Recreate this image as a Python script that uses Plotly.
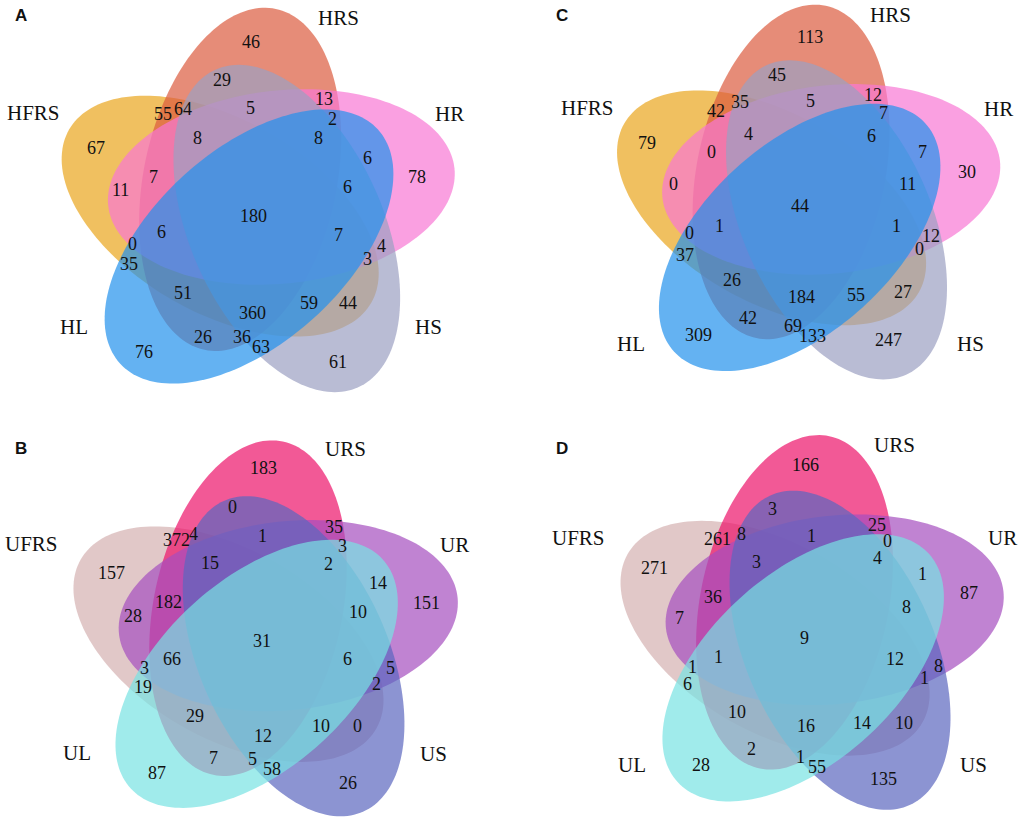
import numpy as np
import plotly.graph_objects as go

# ---------------- data ----------------
sets_H = ["HL", "HS", "HR", "HRS", "HFRS"]
sets_U = ["UL", "US", "UR", "URS", "UFRS"]

counts_A = [46, 29, 13, 55, 64, 5, 2, 67, 8, 8, 6, 78, 7, 11, 6, 180, 6, 7, 0, 4, 35, 3, 51, 59, 44, 360, 26, 36, 63, 76, 61]
counts_C = [113, 45, 12, 35, 42, 5, 7, 79, 4, 6, 0, 7, 30, 0, 11, 44, 1, 1, 0, 12, 0, 37, 26, 55, 27, 184, 42, 69, 133, 309, 247]
counts_B = [183, 0, 35, 372, 4, 1, 3, 15, 2, 157, 14, 182, 151, 28, 10, 31, 66, 6, 3, 5, 19, 2, 29, 10, 0, 12, 7, 5, 58, 87, 26]
counts_D = [166, 3, 25, 261, 8, 1, 0, 3, 4, 271, 1, 87, 36, 8, 7, 9, 1, 12, 1, 8, 6, 1, 10, 14, 10, 16, 2, 1, 55, 28, 135]

# ---------------- layout (label positions in page pixels) ----------------
pos_A = [(251, 42), (222, 80), (324, 99), (163, 114), (183, 109), (250, 108), (332, 119), (96, 148), (197, 138),
         (318, 138), (367, 158), (417, 177), (153, 177), (120, 190), (347, 187), (253, 216), (161, 232), (338, 235),
         (132, 244), (381, 246), (129, 264), (367, 259), (183, 293), (309, 303), (348, 303), (252, 313), (203, 337),
         (242, 337), (261, 347), (144, 352), (338, 362)]
pos_C = [(810, 37), (777, 75), (873, 95), (740, 102), (716, 111), (810, 101), (883, 113), (647, 143), (748, 134),
         (871, 136), (711, 152), (922, 152), (967, 172), (673, 184), (907, 184), (800, 206), (719, 226), (896, 226),
         (689, 233), (931, 236), (919, 249), (685, 255), (732, 280), (856, 295), (903, 292), (801, 297), (748, 318),
         (793, 326), (812, 336), (698, 335), (888, 340)]
pos_B = [(263, 468), (232, 507), (334, 527), (176, 540), (193, 534), (262, 536), (342, 546), (210, 563), (328, 564),
         (111, 573), (378, 583), (168, 602), (426, 603), (133, 616), (358, 612), (262, 641), (172, 659), (347, 659),
         (144, 668), (390, 668), (143, 687), (376, 684), (195, 716), (321, 726), (357, 726), (263, 736), (213, 758),
         (252, 759), (272, 769), (157, 773), (348, 783)]
pos_D = [(805, 465), (772, 509), (877, 525), (717, 539), (741, 534), (811, 536), (887, 541), (756, 562), (877, 558),
         (654, 568), (922, 574), (969, 593), (713, 597), (906, 607), (679, 618), (804, 638), (718, 657), (895, 659),
         (692, 667), (938, 666), (687, 684), (924, 678), (737, 712), (862, 723), (904, 723), (806, 726), (751, 749),
         (800, 757), (817, 767), (701, 765), (883, 779)]

# set-name label positions, order as sets lists
setpos_A = [(74, 327), (428, 327), (449, 114), (338, 18), (33, 113)]
setpos_C = [(631, 344), (970, 344), (998, 109), (890, 15), (587, 108)]
setpos_B = [(77, 753), (433, 754), (454, 545), (345, 449), (31, 544)]
setpos_D = [(632, 765), (973, 765), (1002, 538), (894, 445), (578, 538)]

letter_pos = {"A": (21, 15), "C": (562, 15), "B": (21, 448), "D": (562, 448)}

# colours (set order: L, S, R, RS, FRS)
col_H = ["rgb(34,145,236)", "rgb(155,159,194)", "rgb(248,119,212)", "rgb(219,91,62)", "rgb(234,165,28)"]
col_U = ["rgb(119,226,226)", "rgb(91,102,191)", "rgb(165,79,191)", "rgb(236,19,105)", "rgb(212,177,177)"]
ALPHA = 0.7

# ellipse geometry (pixels, at scale 1): offset of each ellipse centre from the
# panel's symmetry centre, first ellipse's offset angle and rotation, semi-axes
R_OFF, PHI0, THETA0, A_AX, B_AX = 35.8, -100.5, 42.2, 175.0, 97.0
panels = {
    "A": dict(center=(255.5, 211.5), scale=0.995, sets=sets_H, cols=col_H, counts=counts_A, pos=pos_A, setpos=setpos_A),
    "C": dict(center=(806.0, 203.3), scale=0.97, sets=sets_H, cols=col_H, counts=counts_C, pos=pos_C, setpos=setpos_C),
    "B": dict(center=(263.0, 639.6), scale=0.973, sets=sets_U, cols=col_U, counts=counts_B, pos=pos_B, setpos=setpos_B),
    "D": dict(center=(809.5, 633.7), scale=0.97, sets=sets_U, cols=col_U, counts=counts_D, pos=pos_D, setpos=setpos_D),
}


def ellipse_path(cx, cy, a, b, rot, n=180):
    t = np.linspace(0, 2 * np.pi, n, endpoint=False)
    u = a * np.cos(t)
    v = b * np.sin(t)
    r = np.radians(rot)
    x = cx + u * np.cos(r) - v * np.sin(r)
    y = cy - (u * np.sin(r) + v * np.cos(r))
    return "M " + " L ".join(f"{xi:.2f},{yi:.2f}" for xi, yi in zip(x, y)) + " Z"


fig = go.Figure()
shapes = []
annotations = []
for letter, p in panels.items():
    cx0, cy0 = p["center"]
    s = p["scale"]
    # draw from bottom (FRS) to top (L)
    for k in [4, 3, 2, 1, 0]:
        ang = np.radians(PHI0 + 72 * k)
        cx = cx0 + R_OFF * s * np.cos(ang)
        cy = cy0 - R_OFF * s * np.sin(ang)
        shapes.append(dict(type="path", xref="x", yref="y",
                           path=ellipse_path(cx, cy, A_AX * s, B_AX * s, THETA0 + 72 * k),
                           fillcolor=p["cols"][k], opacity=ALPHA, line=dict(width=0), layer="below"))
    for val, (x, y) in zip(p["counts"], p["pos"]):
        annotations.append(dict(x=x, y=y, xref="x", yref="y", text=str(val), showarrow=False,
                                font=dict(family="Liberation Serif", size=18, color="#111111"),
                                xanchor="center", yanchor="middle"))
    for name, (x, y) in zip(p["sets"], p["setpos"]):
        annotations.append(dict(x=x, y=y, xref="x", yref="y", text=name, showarrow=False,
                                font=dict(family="Liberation Serif", size=21, color="#111111"),
                                xanchor="center", yanchor="middle"))
    lx, ly = letter_pos[letter]
    annotations.append(dict(x=lx, y=ly, xref="x", yref="y", text=f"<b>{letter}</b>", showarrow=False,
                            font=dict(family="Liberation Sans", size=17, color="#111111"),
                            xanchor="center", yanchor="middle"))

fig.update_layout(
    width=1021, height=823, margin=dict(l=0, r=0, t=0, b=0),
    paper_bgcolor="white", plot_bgcolor="white",
    xaxis=dict(range=[0, 1021], visible=False, fixedrange=True),
    yaxis=dict(range=[823, 0], visible=False, fixedrange=True),
    shapes=shapes, annotations=annotations, showlegend=False,
)
# remove the default page margin so the figure sits at the window's top-left corner
fig.write_html("out.html", config={"displayModeBar": False},
               post_script="document.body.style.margin='0px';document.body.style.overflow='hidden';")
